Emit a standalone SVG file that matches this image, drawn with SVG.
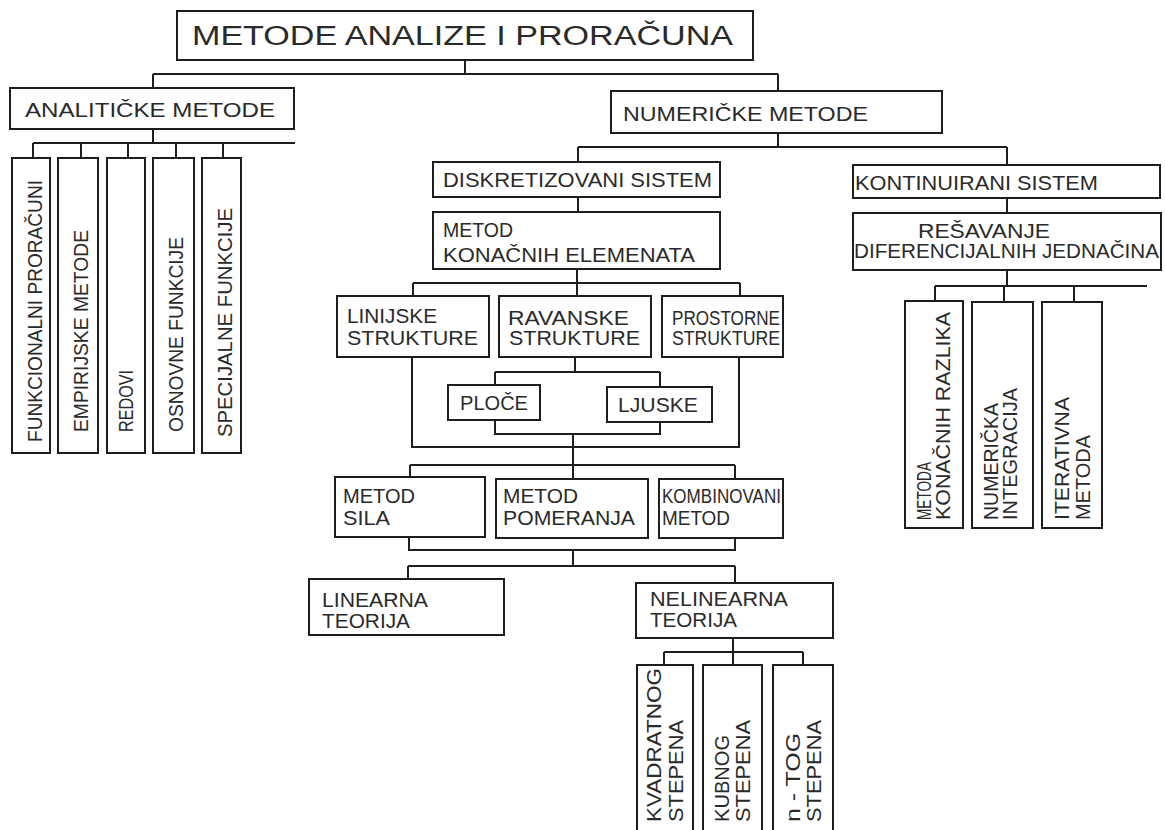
<svg xmlns="http://www.w3.org/2000/svg" width="1165" height="830" viewBox="0 0 1165 830">
<style>
.b{fill:none;stroke:#1e1e1e;stroke-width:2}
.c{fill:none;stroke:#1e1e1e;stroke-width:2}
text{font-family:"Liberation Sans",Arial,sans-serif;font-size:20px;fill:#2a2a2a}
.t{font-size:27px}
.h{font-size:21px}
</style>
<rect width="1165" height="830" fill="#fff"/>
<g id="connectors">
<path class="c" d="M465,60V74M153,74H778M153,74V88M778,74V91"/>
<path class="c" d="M153,129V143M33,143H295M33,143V158M81,143V158M128,143V158M176,143V158M223,143V158"/>
<path class="c" d="M778,133V147M578,147H1007M578,147V162M1007,147V165"/>
<path class="c" d="M578,197V212M577,269V283M413,283H740M413,283V296M577,283V296M740,283V296"/>
<path class="c" d="M412,357V447H739V357M575,357V372M495,372H660M495,372V385M660,372V387"/>
<path class="c" d="M495,420V434H660V422M573,434V465"/>
<path class="c" d="M410,465H735M410,465V477M573,465V479M735,465V479"/>
<path class="c" d="M409,537V550H735V538M573,550V566"/>
<path class="c" d="M408,566H735M408,566V579M735,566V583"/>
<path class="c" d="M733,638V652M664,652H803M664,652V665M733,652V665M803,652V665"/>
<path class="c" d="M1007,198V213M1007,270V286M935,286H1147M935,286V301M1004,286V302M1074,286V302"/>
</g>
<g id="title"><rect class="b" x="177" y="11" width="576" height="49"/><text class="t" x="192" y="45" textLength="541" lengthAdjust="spacingAndGlyphs">METODE ANALIZE I PRORAČUNA</text></g>
<g id="analiticke"><rect class="b" x="10" y="88" width="284" height="41"/><text class="h" x="25" y="117" textLength="250" lengthAdjust="spacingAndGlyphs">ANALITIČKE METODE</text></g>
<g id="funkcionalni"><rect class="b" x="12" y="158" width="38" height="295"/><text x="42" y="442" transform="rotate(-90 42 442)" textLength="262" lengthAdjust="spacingAndGlyphs">FUNKCIONALNI PRORAČUNI</text></g>
<g id="empirijske"><rect class="b" x="58" y="158" width="40" height="295"/><text x="88" y="432" transform="rotate(-90 88 432)" textLength="202" lengthAdjust="spacingAndGlyphs">EMPIRIJSKE METODE</text></g>
<g id="redovi"><rect class="b" x="107" y="158" width="38" height="295"/><text x="133" y="432" transform="rotate(-90 133 432)" textLength="62" lengthAdjust="spacingAndGlyphs">REDOVI</text></g>
<g id="osnovne"><rect class="b" x="153" y="158" width="41" height="295"/><text x="183" y="432" transform="rotate(-90 183 432)" textLength="195" lengthAdjust="spacingAndGlyphs">OSNOVNE FUNKCIJE</text></g>
<g id="specijalne"><rect class="b" x="202" y="158" width="39" height="295"/><text x="232" y="437" transform="rotate(-90 232 437)" textLength="229" lengthAdjust="spacingAndGlyphs">SPECIJALNE FUNKCIJE</text></g>
<g id="numericke"><rect class="b" x="611" y="91" width="331" height="42"/><text class="h" x="623" y="121" textLength="245" lengthAdjust="spacingAndGlyphs">NUMERIČKE METODE</text></g>
<g id="diskretizovani"><rect class="b" x="433" y="162" width="287" height="35"/><text x="443" y="187" textLength="269" lengthAdjust="spacingAndGlyphs">DISKRETIZOVANI SISTEM</text></g>
<g id="mke"><rect class="b" x="433" y="212" width="287" height="57"/><text x="443" y="237" textLength="70" lengthAdjust="spacingAndGlyphs">METOD</text><text x="443" y="262" textLength="252" lengthAdjust="spacingAndGlyphs">KONAČNIH ELEMENATA</text></g>
<g id="linijske"><rect class="b" x="337" y="296" width="152" height="61"/><text x="347" y="323" textLength="90" lengthAdjust="spacingAndGlyphs">LINIJSKE</text><text x="347" y="345" textLength="131" lengthAdjust="spacingAndGlyphs">STRUKTURE</text></g>
<g id="ravanske"><rect class="b" x="499" y="296" width="152" height="61"/><text x="508" y="325" textLength="121" lengthAdjust="spacingAndGlyphs">RAVANSKE</text><text x="509" y="345" textLength="131" lengthAdjust="spacingAndGlyphs">STRUKTURE</text></g>
<g id="prostorne"><rect class="b" x="662" y="296" width="121" height="61"/><text x="672" y="325" textLength="108" lengthAdjust="spacingAndGlyphs">PROSTORNE</text><text x="672" y="345" textLength="108" lengthAdjust="spacingAndGlyphs">STRUKTURE</text></g>
<g id="ploce"><rect class="b" x="448" y="385" width="92" height="35"/><text x="460" y="410" textLength="68" lengthAdjust="spacingAndGlyphs">PLOČE</text></g>
<g id="ljuske"><rect class="b" x="607" y="387" width="105" height="35"/><text x="618" y="412" textLength="80" lengthAdjust="spacingAndGlyphs">LJUSKE</text></g>
<g id="sila"><rect class="b" x="335" y="477" width="150" height="60"/><text x="343" y="503" textLength="72" lengthAdjust="spacingAndGlyphs">METOD</text><text x="343" y="525" textLength="47" lengthAdjust="spacingAndGlyphs">SILA</text></g>
<g id="pomeranja"><rect class="b" x="496" y="479" width="152" height="59"/><text x="503" y="503" textLength="75" lengthAdjust="spacingAndGlyphs">METOD</text><text x="503" y="525" textLength="132" lengthAdjust="spacingAndGlyphs">POMERANJA</text></g>
<g id="kombinovani"><rect class="b" x="659" y="479" width="124" height="59"/><text x="662" y="503" textLength="119" lengthAdjust="spacingAndGlyphs">KOMBINOVANI</text><text x="662" y="525" textLength="68" lengthAdjust="spacingAndGlyphs">METOD</text></g>
<g id="linearna"><rect class="b" x="309" y="579" width="195" height="56"/><text x="322" y="607" textLength="106" lengthAdjust="spacingAndGlyphs">LINEARNA</text><text x="322" y="628" textLength="88" lengthAdjust="spacingAndGlyphs">TEORIJA</text></g>
<g id="nelinearna"><rect class="b" x="636" y="583" width="197" height="55"/><text x="650" y="606" textLength="138" lengthAdjust="spacingAndGlyphs">NELINEARNA</text><text x="650" y="627" textLength="87" lengthAdjust="spacingAndGlyphs">TEORIJA</text></g>
<g id="kvadratnog"><rect class="b" x="637" y="665" width="56" height="180"/><text x="661" y="822" transform="rotate(-90 661 822)" textLength="154" lengthAdjust="spacingAndGlyphs">KVADRATNOG</text><text x="683" y="822" transform="rotate(-90 683 822)" textLength="102" lengthAdjust="spacingAndGlyphs">STEPENA</text></g>
<g id="kubnog"><rect class="b" x="703" y="665" width="59" height="180"/><text x="729" y="822" transform="rotate(-90 729 822)" textLength="87" lengthAdjust="spacingAndGlyphs">KUBNOG</text><text x="750" y="822" transform="rotate(-90 750 822)" textLength="102" lengthAdjust="spacingAndGlyphs">STEPENA</text></g>
<g id="ntog"><rect class="b" x="773" y="665" width="60" height="180"/><text x="800" y="822" transform="rotate(-90 800 822)" textLength="89" lengthAdjust="spacingAndGlyphs">n - TOG</text><text x="821" y="822" transform="rotate(-90 821 822)" textLength="102" lengthAdjust="spacingAndGlyphs">STEPENA</text></g>
<g id="kontinuirani"><rect class="b" x="853" y="165" width="307" height="33"/><text x="855" y="190" textLength="243" lengthAdjust="spacingAndGlyphs">KONTINUIRANI SISTEM</text></g>
<g id="resavanje"><rect class="b" x="853" y="213" width="308" height="57"/><text x="918" y="238" textLength="132" lengthAdjust="spacingAndGlyphs">REŠAVANJE</text><text x="854" y="258" textLength="305" lengthAdjust="spacingAndGlyphs">DIFERENCIJALNIH JEDNAČINA</text></g>
<g id="mkr"><rect class="b" x="905" y="301" width="58" height="227"/><text x="931" y="520" transform="rotate(-90 931 520)" textLength="58" lengthAdjust="spacingAndGlyphs">METODA</text><text x="950" y="520" transform="rotate(-90 950 520)" textLength="208" lengthAdjust="spacingAndGlyphs">KONAČNIH RAZLIKA</text></g>
<g id="ni"><rect class="b" x="972" y="302" width="61" height="226"/><text x="998" y="520" transform="rotate(-90 998 520)" textLength="117" lengthAdjust="spacingAndGlyphs">NUMERIČKA</text><text x="1017" y="520" transform="rotate(-90 1017 520)" textLength="132" lengthAdjust="spacingAndGlyphs">INTEGRACIJA</text></g>
<g id="im"><rect class="b" x="1042" y="302" width="60" height="226"/><text x="1069" y="520" transform="rotate(-90 1069 520)" textLength="123" lengthAdjust="spacingAndGlyphs">ITERATIVNA</text><text x="1090" y="520" transform="rotate(-90 1090 520)" textLength="85" lengthAdjust="spacingAndGlyphs">METODA</text></g>
</svg>
